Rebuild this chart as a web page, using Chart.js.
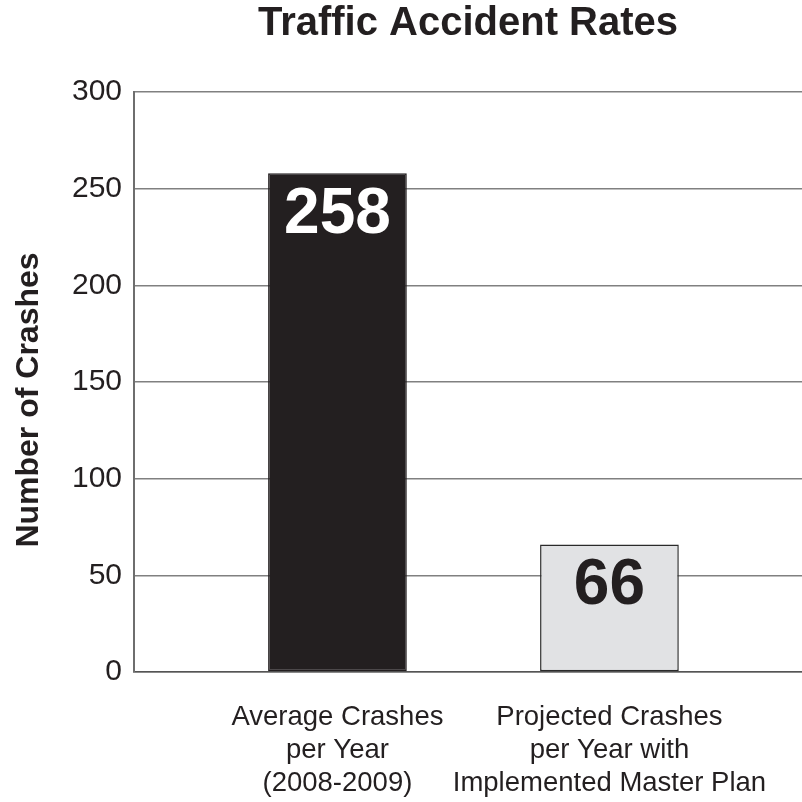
<!DOCTYPE html>
<html>
<head>
<meta charset="utf-8">
<script src="https://cdn.jsdelivr.net/npm/chart.js@4.4.0/dist/chart.umd.min.js"></script>
<style>
  html, body { margin: 0; padding: 0; background: #ffffff; }
  #wrap { width: 802px; height: 802px; }
</style>
</head>
<body>
<div id="wrap"><canvas id="c" width="802" height="802"></canvas></div>
<script>
// ---- data ----
const chartTitle = 'Traffic Accident Rates';
const yAxisTitle = 'Number of Crashes';
const categories = [
  ['Average Crashes', 'per Year', '(2008-2009)'],
  ['Projected Crashes', 'per Year with', 'Implemented Master Plan']
];
const crashes = [258, 66];
const yTicks = [0, 50, 100, 150, 200, 250, 300];

// ---- styles ----
const FONT = '"Liberation Sans", Arial, Helvetica, sans-serif';
const TEXT = '#231f20';
const barFills = ['#231f20', '#e1e2e4'];
const barBorders = ['#231f20', '#2a2a2a'];
const valueColors = ['#ffffff', '#231f20'];

const layoutTweaks = {
  id: 'layoutTweaks',
  afterLayout(chart) {
    const t = chart.titleBlock;
    if (t) { t.left = chart.chartArea.left; t.right = chart.chartArea.right; }
    // draw the rotated y-axis title a little lower, as in the reference
    const y = chart.scales.y;
    if (y && !y._titleWrapped) {
      const orig = y.drawTitle;
      y.drawTitle = function () {
        const top = this.top;
        this.top = top + 36;
        orig.call(this);
        this.top = top;
      };
      y._titleWrapped = true;
    }
  }
};

const valueLabels = {
  id: 'valueLabels',
  afterDatasetsDraw(chart) {
    const ctx = chart.ctx;
    const meta = chart.getDatasetMeta(0);
    ctx.save();
    ctx.font = 'bold 64px ' + FONT;
    ctx.textAlign = 'center';
    ctx.textBaseline = 'alphabetic';
    meta.data.forEach((bar, i) => {
      ctx.fillStyle = valueColors[i];
      ctx.fillText(String(crashes[i]), bar.x, bar.y + 60);
    });
    ctx.restore();
  }
};

new Chart(document.getElementById('c'), {
  type: 'bar',
  data: {
    datasets: [{
      data: crashes.map((v, i) => ({ x: i, y: v })),
      backgroundColor: barFills,
      borderColor: barBorders,
      borderWidth: 1.5,
      borderSkipped: false,
      categoryPercentage: 1,
      barPercentage: 0.51
    }]
  },
  options: {
    responsive: false,
    animation: false,
    layout: { padding: 0 },
    plugins: {
      legend: { display: false },
      tooltip: { enabled: false },
      title: {
        display: true,
        text: chartTitle,
        color: TEXT,
        font: { family: FONT, size: 40, weight: 'bold', lineHeight: 1.2 },
        padding: { top: 0, bottom: 44 }
      }
    },
    scales: {
      x: {
        type: 'linear',
        offset: false,
        min: -0.748,
        max: 1.708,
        afterBuildTicks(scale) { scale.ticks = categories.map((_, i) => ({ value: i })); },
        afterFit(scale) { scale.height = 130; },
        ticks: {
          autoSkip: false,
          maxRotation: 0,
          padding: 29,
          color: TEXT,
          font: { family: FONT, size: 27.5, lineHeight: 1.2 },
          callback: (v) => categories[v]
        },
        grid: { display: false, drawTicks: false, offset: false },
        border: { display: true, color: '#555555', width: 1.5 }
      },
      y: {
        min: 0,
        max: 300,
        afterBuildTicks(scale) { scale.ticks = yTicks.map(v => ({ value: v })); },
        afterFit(scale) { scale.width = 134; },
        ticks: {
          padding: 12,
          color: TEXT,
          font: { family: FONT, size: 30 }
        },
        grid: { color: '#808080', lineWidth: 1.5, drawTicks: false },
        border: { display: true, color: '#6e6e6e', width: 2 },
        title: {
          display: true,
          text: yAxisTitle,
          color: TEXT,
          font: { family: FONT, size: 32, weight: 'bold', lineHeight: 1.2 },
          padding: { top: 10, bottom: 0 }
        }
      }
    }
  },
  plugins: [layoutTweaks, valueLabels]
});
</script>
</body>
</html>
